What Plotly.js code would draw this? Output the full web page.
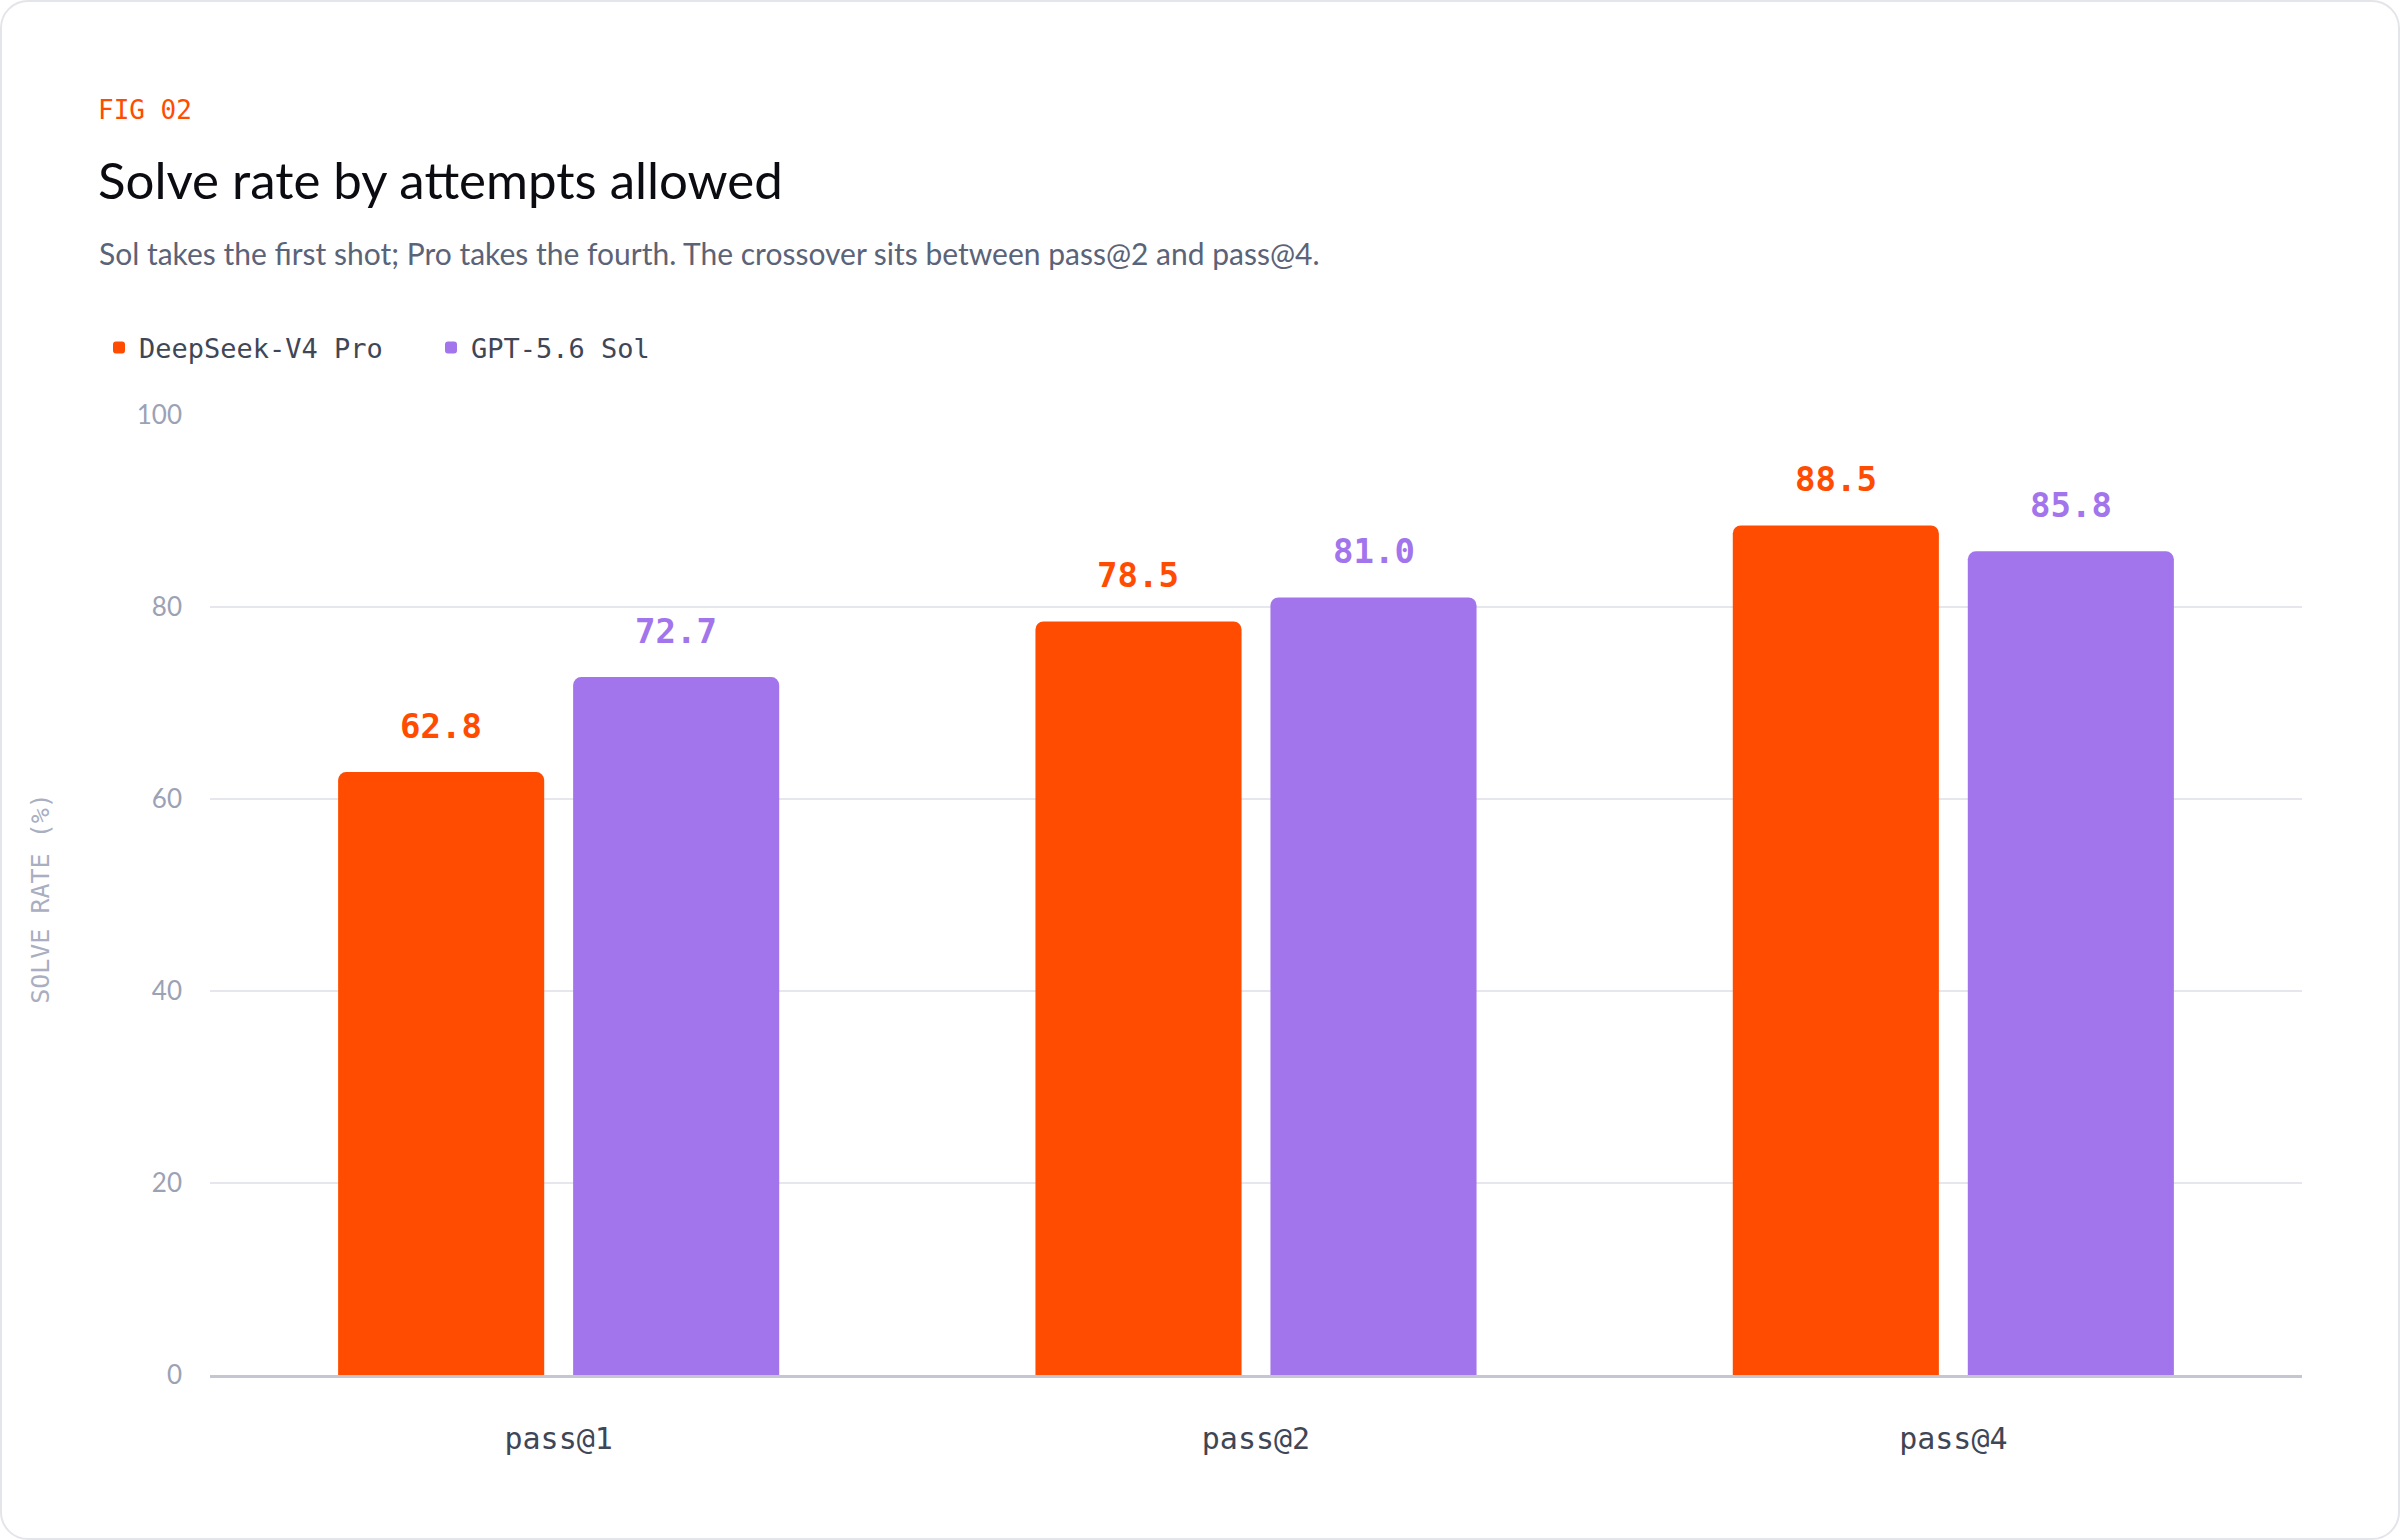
<!DOCTYPE html>
<html>
<head>
<meta charset="utf-8">
<script src="https://cdn.plot.ly/plotly-3.0.1.min.js"></script>
<style>
  html, body { margin: 0; padding: 0; background: #ffffff; }
  #wrap { position: relative; width: 2400px; height: 1540px; }
  #chart { width: 2400px; height: 1540px; }
  #card {
    position: absolute; left: 0; top: 0; right: 0; bottom: 0;
    border: 2px solid #e4e5ea; border-radius: 28px; pointer-events: none;
  }
</style>
</head>
<body>
<div id="wrap">
  <div id="chart"></div>
  <div id="card"></div>
</div>
<script>
// Chart data
const categories = ['pass@1', 'pass@2', 'pass@4'];
const seriesNames = ['DeepSeek-V4 Pro', 'GPT-5.6 Sol'];
const proValues = [62.8, 78.5, 88.5];
const solValues = [72.7, 81.0, 85.8];
const yTicks = [0, 20, 40, 60, 80, 100];

const ORANGE = '#ff4c00';
const PURPLE = '#a275ec';
const MONO = '"DejaVu Sans Mono", "Liberation Mono", monospace';
const SANS = 'Lato, "Open Sans", sans-serif';

const W = 2400, H = 1540;
const margin = { l: 210, r: 98, t: 415, b: 165, pad: 0 };
const bargap = 0.326;
const bargroupgap = 0.123;

// horizontal offset of each bar centre from the category centre, in px
const plotW = W - margin.l - margin.r;
const slot = (plotW / categories.length) * (1 - bargap) / seriesNames.length;
const barShift = slot / 2;

// paper coordinates for text placed in the header
const px = (x) => (x - margin.l) / plotW;
const py = (y) => (H - margin.b - y) / (H - margin.t - margin.b);

function valueLabels(values, color, shift) {
  return values.map((v, i) => ({
    x: categories[i],
    y: v,
    xref: 'x',
    yref: 'y',
    text: v.toFixed(1),
    showarrow: false,
    xanchor: 'center',
    yanchor: 'bottom',
    xshift: shift,
    yshift: 24,
    font: { family: MONO, size: 34, color: color, weight: 'bold' }
  }));
}

const data = [
  {
    type: 'bar',
    name: seriesNames[0],
    x: categories,
    y: proValues,
    marker: { color: ORANGE, cornerradius: 8, line: { width: 0 } },
    hoverinfo: 'x+y+name'
  },
  {
    type: 'bar',
    name: seriesNames[1],
    x: categories,
    y: solValues,
    marker: { color: PURPLE, cornerradius: 8, line: { width: 0 } },
    hoverinfo: 'x+y+name'
  }
];

const headerNotes = [
  {
    text: 'FIG 02',
    x: px(96), y: py(110),
    font: { family: MONO, size: 26, color: ORANGE }
  },
  {
    text: 'Solve rate by attempts allowed',
    x: px(96), y: py(179),
    font: { family: SANS, size: 51, color: '#0b0b12' }
  },
  {
    text: 'Sol takes the first shot; Pro takes the fourth. The crossover sits between pass@2 and pass@4.',
    x: px(97), y: py(253),
    font: { family: SANS, size: 30, color: '#5b6378' }
  }
].map((a) => Object.assign({
  xref: 'paper', yref: 'paper', xanchor: 'left', yanchor: 'middle', showarrow: false
}, a));

const axisTitle = {
  text: 'SOLVE RATE (%)',
  xref: 'paper', yref: 'paper',
  x: px(41), y: 0.496,
  textangle: -90,
  showarrow: false,
  xanchor: 'center', yanchor: 'middle',
  font: { family: MONO, size: 25, color: '#a9aec0' }
};

const layout = {
  width: W,
  height: H,
  margin: margin,
  paper_bgcolor: '#ffffff',
  plot_bgcolor: '#ffffff',
  barmode: 'group',
  bargap: bargap,
  bargroupgap: bargroupgap,
  showlegend: true,
  legend: {
    orientation: 'h',
    x: px(99), xanchor: 'left',
    y: py(348), yanchor: 'middle',
    font: { family: MONO, size: 27, color: '#3f4656' },
    entrywidth: 287,
    entrywidthmode: 'pixels',
    bgcolor: 'rgba(0,0,0,0)'
  },
  xaxis: {
    type: 'category',
    tickfont: { family: MONO, size: 30, color: '#3f4656' },
    showline: true,
    linecolor: '#c4c7d1',
    linewidth: 2.5,
    showgrid: false,
    ticks: '',
    ticklabelstandoff: 35,
    fixedrange: true
  },
  yaxis: {
    range: [0, 100],
    tickvals: yTicks,
    ticktext: yTicks.map(String),
    tickfont: { family: SANS, size: 26, color: '#9ca2b6' },
    showgrid: true,
    gridcolor: '#e6e7ec',
    gridwidth: 2,
    zeroline: false,
    showline: false,
    ticks: '',
    ticklabelstandoff: 27,
    fixedrange: true
  },
  annotations: headerNotes
    .concat([axisTitle])
    .concat(valueLabels(proValues, ORANGE, -barShift))
    .concat(valueLabels(solValues, PURPLE, barShift))
};

Plotly.newPlot('chart', data, layout, { displayModeBar: false, staticPlot: true });
</script>
</body>
</html>
